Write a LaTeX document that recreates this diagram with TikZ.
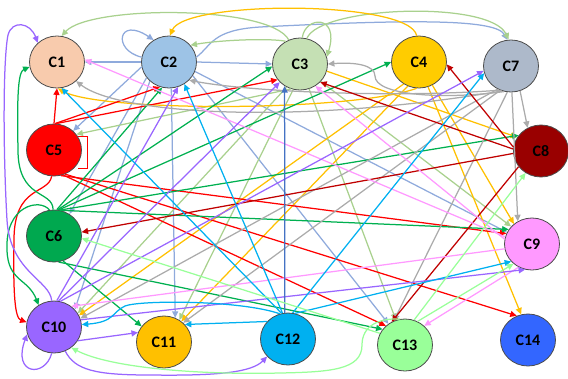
\documentclass[tikz,border=0pt]{standalone}
\usepackage{fontspec}
\setmainfont{Carlito}
\usetikzlibrary{shapes.geometric,arrows.meta}
\definecolor{n1}{HTML}{F8CBAD}
\definecolor{n2}{HTML}{9DC3E6}
\definecolor{n3}{HTML}{C5E0B4}
\definecolor{n4}{HTML}{FFCC00}
\definecolor{n5}{HTML}{FF0000}
\definecolor{n6}{HTML}{00A84F}
\definecolor{n7}{HTML}{ADB9CA}
\definecolor{n8}{HTML}{990000}
\definecolor{n9}{HTML}{FF99FF}
\definecolor{n10}{HTML}{9966FF}
\definecolor{n11}{HTML}{FFC000}
\definecolor{n12}{HTML}{00B0F0}
\definecolor{n13}{HTML}{99FF99}
\definecolor{n14}{HTML}{3366FF}
\definecolor{e2}{HTML}{8FAADC}
\definecolor{e3}{HTML}{A9D18E}
\definecolor{e4}{HTML}{FFC000}
\definecolor{e5}{HTML}{FF0000}
\definecolor{e6}{HTML}{00B050}
\definecolor{e7}{HTML}{ABABAB}
\definecolor{e8}{HTML}{C00000}
\definecolor{e9}{HTML}{FF99FF}
\definecolor{e10}{HTML}{9966FF}
\definecolor{e12}{HTML}{00B0F0}
\definecolor{e12b}{HTML}{4472C4}
\definecolor{e13}{HTML}{99FF99}
\begin{document}
\begin{tikzpicture}[x=1pt,y=-1pt,
  nd/.style={ellipse,draw=black!70,line width=0.8pt,minimum width=55pt,minimum height=52pt,inner sep=0pt,font=\fontsize{16}{18}\selectfont\bfseries},
  ar/.style={line width=1.25pt,-{Triangle[length=6.5pt,width=6pt]}},
  thinbox/.style={line width=0.7pt}]
\useasboundingbox (0,0) rectangle (568,378);
% nodes
\node[nd,fill=n1] (c1) at (57,62) {C1};
\node[nd,fill=n2] (c2) at (169,62) {C2};
\node[nd,fill=n3] (c3) at (300,64) {C3};
\node[nd,fill=n4] (c4) at (419,62) {C4};
\node[nd,fill=n7] (c7) at (511,66) {C7};
\node[nd,fill=n5] (c5) at (54,150) {C5};
\node[nd,fill=n8] (c8) at (541,151) {C8};
\node[nd,fill=n6] (c6) at (54,236) {C6};
\node[nd,fill=n9] (c9) at (532,244) {C9};
\node[nd,fill=n10] (c10) at (54,327) {C10};
\node[nd,fill=n11] (c11) at (164,342) {C11};
\node[nd,fill=n12] (c12) at (288,339) {C12};
\node[nd,fill=n13] (c13) at (405,345) {C13};
\node[nd,fill=n14] (c14) at (528,340) {C14};
% C2 edges
\draw[ar,e2] (c2.180) -- (c1.0);
\draw[ar,e2] (c2.0) -- (c3.180);
\draw[ar,e2] (c2.170) .. controls (112,50) and (118,16) .. (c2.125);
\draw[ar,e2] (c2.10) .. controls (212,45) and (212,30) .. (260,27) .. controls (400,20) and (495,18) .. (c7.98);
\draw[ar,e2] (c2.190) -- (c5.45);
\draw[ar,e2] (c2.215) -- (c6.55);
\draw[ar,e2] (c2.225) -- (c10.40);
\draw[ar,e2] (c2.275) -- (c11.65);
\draw[ar,e2] (c2.330) -- (c13.128);
\draw[ar,e2] (c2.340) -- (c9.155);
% C3 edges
\draw[ar,e3] (c3.115) .. controls (270,5) and (90,5) .. (c1.80);
\draw[ar,e3] (c3.122) .. controls (270,38) and (220,40) .. (c2.38);
\draw[ar,e3] (c3.85) .. controls (305,16) and (340,14) .. (c3.15);
\draw[ar,e3] (c3.75) .. controls (320,6) and (490,0) .. (c7.95);
\draw[ar,e3] (c3.250) -- (c5.35);
\draw[ar,e3] (c3.240) -- (c10.30);
\draw[ar,e3] (c3.255) -- (c11.55);
\draw[ar,e3] (c3.290) -- (c13.110);
\draw[ar,e3] (c3.320) -- (c9.140);
% C4 edges
\draw[ar,e4] (c4.95) .. controls (410,0) and (185,0) .. (c2.88);
\draw[ar,e4] (c4.265) .. controls (350,112) and (100,112) .. (c1.272);
\draw[ar,e4] (c3.345) -- (c8.150);
\draw[ar,e4] (c4.235) -- (c10.25);
\draw[ar,e4] (c4.245) -- (c11.50);
\draw[ar,e4] (c4.290) -- (c14.105);
\draw[ar,e4] (c4.300) -- (c9.132);
% C5 edges
\draw[ar,e5] (c5.90) -- (c1.270);
\draw[ar,e5] (c5.88) -- (c2.250);
\draw[ar,e5] (c5.86) -- (c3.215);
\draw[e5,thinbox] (78,136) -- (87,136) -- (87,168) -- (78,168);
\draw[ar,e5] (c5.265) .. controls (48,195) and (14,185) .. (14,240) .. controls (13,295) and (15,318) .. (c10.170);
\draw[ar,e5] (c5.285) -- (c9.158);
\draw[ar,e5] (c5.290) -- (c13.135);
\draw[ar,e5] (c5.295) -- (c14.115);
% C6 edges
\draw[ar,e6] (c6.92) .. controls (53,190) and (18,200) .. (18,150) .. controls (17,95) and (18,72) .. (c1.190);
\draw[ar,e6] (c6.100) .. controls (40,198) and (5,205) .. (7,250) .. controls (8,282) and (28,278) .. (c10.125);
\draw[ar,e6] (c6.84) -- (c2.255);
\draw[ar,e6] (c6.82) -- (c3.185);
\draw[ar,e6] (c6.80) -- (c4.180);
\draw[ar,e6] (c6.78) -- (c8.145);
\draw[ar,e6] (c6.76) -- (c9.148);
\draw[ar,e6] (c6.290) -- (c11.145);
\draw[ar,e6] (c6.280) -- (c13.145);
% C7 edges
\draw[ar,e7] (c7.250) .. controls (300,125) and (120,115) .. (c1.315);
\draw[ar,e7] (c7.245) .. controls (400,98) and (250,92) .. (c2.318);
\draw[ar,e7] (c7.255) .. controls (440,100) and (375,95) .. (375,76) .. controls (375,65) and (355,62) .. (c3.0);
\draw[ar,e7] (c7.290) -- (c8.120);
\draw[ar,e7] (c7.272) -- (c9.122);
\draw[ar,e7] (c7.240) -- (c10.18);
\draw[ar,e7] (c7.246) -- (c11.45);
\draw[ar,e7] (c7.262) -- (c13.115);
% C8 edges
\draw[ar,e8] (c8.172) -- (c4.355);
\draw[ar,e8] (c8.176) -- (c3.318);
\draw[ar,e8] (c8.185) -- (c6.8);
\draw[ar,e8] (c8.215) -- (c13.120);
% C9 edges
\draw[ar,e9] (c9.165) -- (c1.5);
\draw[ar,e9] (c9.170) -- (c3.305);
\draw[ar,e9] (c9.190) -- (c10.50);
\draw[ar,e9] (c9.240) -- (c13.45);
% C10 edges
\draw[ar,e10] (c10.95) .. controls (50,280) and (10,272) .. (7,220) .. controls (3,150) and (3,60) .. (8,35) .. controls (12,20) and (30,22) .. (c1.135);
\draw[ar,e10] (c10.84) -- (c2.290);
\draw[ar,e10] (c10.80) -- (c3.222);
\draw[ar,e10] (c10.76) -- (c7.190);
\draw[ar,e10] (c10.15) -- (c9.255);
\draw[ar,e10] (c10.330) -- (c11.160);
\draw[ar,e10] (c10.265) .. controls (45,378) and (12,375) .. (c10.195);
\draw[ar,e10] (c10.295) .. controls (75,370) and (95,375) .. (150,375) .. controls (220,376) and (252,372) .. (c12.220);
% C12 edges
\draw[ar,e12] (c12.104) -- (c1.280);
\draw[ar,e12] (c12.102) -- (c2.305);
\draw[ar,e12] (c12.80) -- (c7.195);
\draw[ar,e12] (c12.75) -- (c9.220);
\draw[ar,e12] (c12.108) .. controls (240,300) and (140,300) .. (125,306) .. controls (112,312) and (115,322) .. (c10.5);
\draw[ar,e12] (c12.140) -- (c11.40);
\draw[ar,e12b] (c12.97) -- (c3.235);
% C13 edges
\draw[ar,e13] (c13.155) -- (c6.355);
\draw[ar,e13] (c13.70) -- (c8.235);
\draw[ar,e13] (c13.62) -- (c9.227);
\draw[ar,e13] (c13.100) .. controls (380,318) and (362,325) .. (362,345) .. controls (362,370) and (330,372) .. (280,373) .. controls (200,375) and (110,368) .. (c10.310);
\end{tikzpicture}
\end{document}
